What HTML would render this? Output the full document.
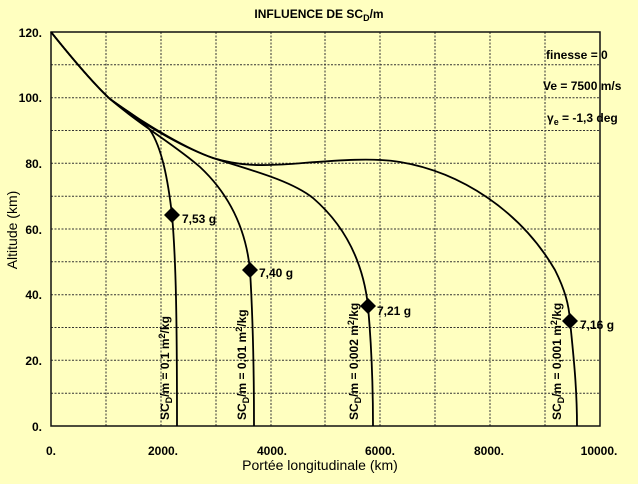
<!DOCTYPE html>
<html><head><meta charset="utf-8"><style>
html,body{margin:0;padding:0;background:#ffffc0;}
svg{display:block;font-family:"Liberation Sans",sans-serif;}
</style></head><body>
<svg width="638" height="484" viewBox="0 0 638 484" xmlns="http://www.w3.org/2000/svg">
<rect width="638" height="484" fill="#ffffc0"/>
<g stroke="#333" stroke-width="1" stroke-dasharray="2,1.5" fill="none">
<line x1="106" y1="32" x2="106" y2="426"/><line x1="161" y1="32" x2="161" y2="426"/>
<line x1="216" y1="32" x2="216" y2="426"/><line x1="271" y1="32" x2="271" y2="426"/>
<line x1="325" y1="32" x2="325" y2="426"/><line x1="380" y1="32" x2="380" y2="426"/>
<line x1="435" y1="32" x2="435" y2="426"/><line x1="490" y1="32" x2="490" y2="426"/>
<line x1="545" y1="32" x2="545" y2="426"/>
<line x1="51" y1="64.8" x2="600" y2="64.8"/><line x1="51" y1="97.7" x2="600" y2="97.7"/>
<line x1="51" y1="130.5" x2="600" y2="130.5"/><line x1="51" y1="163.3" x2="600" y2="163.3"/>
<line x1="51" y1="196.2" x2="600" y2="196.2"/><line x1="51" y1="229" x2="600" y2="229"/>
<line x1="51" y1="261.8" x2="600" y2="261.8"/><line x1="51" y1="294.7" x2="600" y2="294.7"/>
<line x1="51" y1="327.5" x2="600" y2="327.5"/><line x1="51" y1="360.3" x2="600" y2="360.3"/>
<line x1="51" y1="393.2" x2="600" y2="393.2"/>
</g>
<rect x="51" y="32" width="549" height="394" fill="none" stroke="#111" stroke-width="1.5"/>
<g stroke="#000" stroke-width="1.8" fill="none">
<path d="M51,32 C75,62 95,85 110,99 C125,110 140,118 150,130 C162,148 168,180 172,215 C176,260 177,320 177,426"/>
<path d="M51,32 C75,62 95,85 110,99 C140,125 175,145 200,167 C230,195 246,230 250,270 C253,320 254,380 254,426"/>
<path d="M51,32 C75,62 95,85 110,99 C150,130 190,150 213,158 C250,170 290,180 313,198 C350,230 364,270 368,306 C371,340 373,380 373,426"/>
<path d="M51,32 C75,62 95,85 110,99 C150,128 190,150 213,158 C240,166 260,166 290,164 C330,161 370,157 400,162 C460,172 520,210 555,270 C565,290 569,305 570,321 C574,360 577,390 577,426"/>
</g>
<g fill="#000">
<path d="M172,207 L180,215 L172,223 L164,215 Z"/>
<path d="M250,262 L258,270 L250,278 L242,270 Z"/>
<path d="M368,298 L376,306 L368,314 L360,306 Z"/>
<path d="M570,313 L578,321 L570,329 L562,321 Z"/>
</g>
<g font-size="12" font-weight="bold" fill="#000">
<text x="182" y="223">7,53 g</text>
<text x="259" y="277">7,40 g</text>
<text x="377" y="315">7,21 g</text>
<text x="580" y="329">7,16 g</text>
<text x="546" y="59">finesse = 0</text>
<text x="543" y="90">Ve = 7500 m/s</text>
<text x="547" y="122">γ<tspan font-size="9" dy="3">e</tspan><tspan dy="-3"> = -1,3 deg</tspan></text>
<text x="319" y="18" text-anchor="middle">INFLUENCE DE SC<tspan font-size="9" dy="3">D</tspan><tspan dy="-3">/m</tspan></text>
</g>
<g font-size="12" font-weight="bold" fill="#000">
<text transform="translate(169,420) rotate(-90)">SC<tspan font-size="9" dy="3">D</tspan><tspan dy="-3">/m = 0,1 m</tspan><tspan font-size="9" dy="-4">2</tspan><tspan dy="4">/kg</tspan></text>
<text transform="translate(246,420) rotate(-90)">SC<tspan font-size="9" dy="3">D</tspan><tspan dy="-3">/m = 0,01 m</tspan><tspan font-size="9" dy="-4">2</tspan><tspan dy="4">/kg</tspan></text>
<text transform="translate(358,420) rotate(-90)">SC<tspan font-size="9" dy="3">D</tspan><tspan dy="-3">/m = 0,002 m</tspan><tspan font-size="9" dy="-4">2</tspan><tspan dy="4">/kg</tspan></text>
<text transform="translate(561,420) rotate(-90)">SC<tspan font-size="9" dy="3">D</tspan><tspan dy="-3">/m = 0,001 m</tspan><tspan font-size="9" dy="-4">2</tspan><tspan dy="4">/kg</tspan></text>
</g>
<g font-size="12" font-weight="bold" fill="#000" text-anchor="end">
<text x="42" y="37">120.</text><text x="42" y="102">100.</text>
<text x="42" y="168">80.</text><text x="42" y="234">60.</text>
<text x="42" y="299">40.</text><text x="42" y="365">20.</text>
<text x="42" y="431">0.</text>
</g>
<g font-size="12" font-weight="bold" fill="#000" text-anchor="middle">
<text x="51" y="455">0.</text><text x="163" y="455">2000.</text>
<text x="272" y="455">4000.</text><text x="380" y="455">6000.</text>
<text x="489" y="455">8000.</text><text x="599" y="455">10000.</text>
</g>
<text x="320" y="470" font-size="14" text-anchor="middle" fill="#000">Portée longitudinale (km)</text>
<text transform="translate(17,230) rotate(-90)" font-size="14" text-anchor="middle" fill="#000">Altitude (km)</text>
</svg>
</body></html>
